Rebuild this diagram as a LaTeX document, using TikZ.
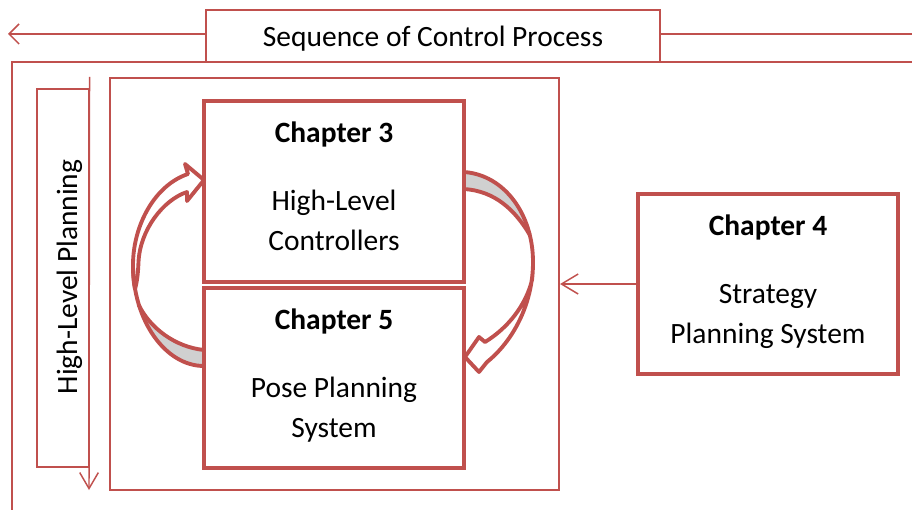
\documentclass[tikz,border=0pt]{standalone}
\usepackage{fontspec}
\setmainfont{Carlito}
\usetikzlibrary{arrows.meta}
\definecolor{rd}{HTML}{C0504D}
\definecolor{gr}{HTML}{D0D0D0}
\tikzset{
  thinln/.style={draw=rd, line width=0.8pt},
  midln/.style={draw=rd, line width=1.1pt},
  innerln/.style={draw=rd, line width=1.6pt},
  chbox/.style={draw=rd, line width=3pt, fill=white, inner sep=0pt},
  txt/.style={font=\fontsize{22.1pt}{26pt}\selectfont, inner sep=0pt, anchor=base},
  btxt/.style={font=\fontsize{22.1pt}{26pt}\selectfont\bfseries, inner sep=0pt, anchor=base},
  arrline/.style={draw=rd, line width=2.9pt, line join=round},
}
\begin{document}
\begin{tikzpicture}[x=0.75pt,y=-0.75pt]
\useasboundingbox (0,0) rectangle (912,510);
% outer frame
\draw[midln] (912,62) -- (12,62) -- (12,510);
% top sequence box
\node[thinln, fill=white, minimum width=340.5pt, minimum height=39pt, inner sep=0pt] (seq) at (433,36) {};
\node[txt] (tseq) at (433,47) {Sequence of Control Process};
\coordinate (lft) at (8,34);
\coordinate (rgt) at (912,34);
\draw[midln, -{Straight Barb[length=7.5pt,width=15pt]}] (seq.west |- lft) -- (lft);
\draw[midln] (seq.east |- rgt) -- (rgt);
% inner box
\node[innerln, minimum width=336.75pt, minimum height=309pt, inner sep=0pt] (inner) at (334.5,284) {};
% high-level planning box
\node[thinln, minimum width=39pt, minimum height=283.5pt, inner sep=0pt] (hlp) at (63,278) {};
\node[txt, rotate=90] (thlp) at (77,277) {High-Level Planning};
\coordinate (hlpend) at (89,490);
\draw[midln, -{Straight Barb[length=12pt,width=14pt]}] (hlp.east |- inner.north) -- (hlpend);
% left curved arrow
\fill[gr] (138.61,304.73) .. controls (149.44,340.13) and (174.75,366) .. (204,366) -- (204,350) .. controls (175,347) and (150,328) .. (138.61,304.73) -- cycle;
\filldraw[fill=white, arrline] (135,289) .. controls (133.5,282) and (133,274) .. (133,265) .. controls (133,225) and (155,185) .. (188,174) -- (185,164) -- (204,180) -- (187,201) -- (187,192) .. controls (163,200) and (140,230) .. (138.5,262) .. controls (138,274) and (137,282) .. (135,289) -- cycle;
\draw[arrline] (133,265) .. controls (133,320) and (165,366) .. (204,366);
\draw[arrline] (138.61,304.73) .. controls (150,328) and (175,347) .. (204,350);
% right curved arrow
\fill[gr] (464,172) .. controls (496.8,174.4) and (521.28,200.48) .. (529.76,234.88) .. controls (515,210) and (495,191) .. (464,189) -- cycle;
\draw[arrline] (464,172) .. controls (505,175) and (533,215) .. (533,262);
\draw[arrline] (529.76,234.88) .. controls (515,210) and (495,191) .. (464,189);
\filldraw[fill=white, arrline] (533,262) .. controls (533,305) and (512,342) .. (487,362) -- (479,372) -- (465,357) -- (479,337) -- (485,342) .. controls (508,328) and (526,305) .. (532,280) .. controls (532.7,274) and (533,268) .. (533,262) -- cycle;
% chapter boxes
\node[chbox, minimum width=195pt, minimum height=135.75pt] (ch3) at (334,191.5) {};
\node[chbox, minimum width=195pt, minimum height=135pt] (ch5) at (334,378) {};
\node[chbox, minimum width=195pt, minimum height=135pt] (ch4) at (768,284) {};
\draw[midln, -{Straight Barb[length=12.5pt,width=15pt]}] (ch4.west) -- (inner.east);
% texts
\node[btxt] (t3a) at (334,142) {Chapter 3};
\node[txt] (t3b) at (334,210) {High-Level};
\node[txt] (t3c) at (334,250) {Controllers};
\node[btxt] (t5a) at (334,329) {Chapter 5};
\node[txt] (t5b) at (334,397) {Pose Planning};
\node[txt] (t5c) at (334,437) {System};
\node[btxt] (t4a) at (768,235) {Chapter 4};
\node[txt] (t4b) at (768,303) {Strategy};
\node[txt] (t4c) at (768,343) {Planning System};
\end{tikzpicture}
\end{document}
